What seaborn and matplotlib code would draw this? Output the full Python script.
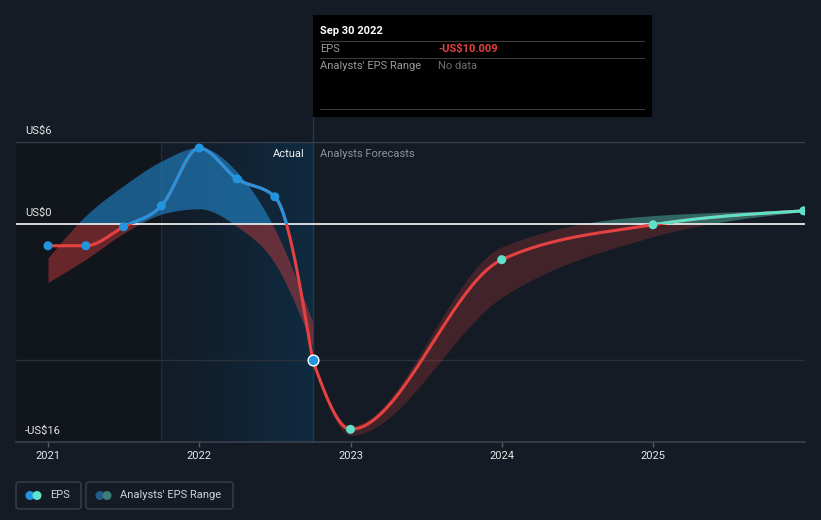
import numpy as np
import pandas as pd
import matplotlib
matplotlib.use("Agg")
import matplotlib.pyplot as plt
import matplotlib.transforms as mtransforms
from matplotlib.patches import Rectangle, FancyBboxPatch, Circle
from matplotlib.colors import LinearSegmentedColormap
import seaborn as sns

# ---------------- data (decimal years) ----------------
actual_x = [2021.0, 2021.25, 2021.5, 2021.75, 2022.0, 2022.25, 2022.5, 2022.75]
actual_eps = [-1.61, -1.61, -0.22, 1.32, 5.56, 3.29, 1.98, -10.009]

hist_hi = [-2.5, 0.6, 2.8, 4.6, 5.6, 3.8, -0.4, -7.2]
hist_lo = [-4.3, -2.6, -0.7, 0.7, 1.1, -0.2, -2.9, -9.0]

fc_x = [2022.75, 2023.0, 2024.0, 2025.0, 2025.997]
fc_eps = [-10.009, -15.07, -2.63, -0.07, 0.95]
fc_hi = [-10.009, -14.8, -1.7, 0.6, 0.98]
fc_lo = [-10.009, -15.5, -5.4, -0.95, 0.9]

year_ticks = [2021, 2022, 2023, 2024, 2025]
year_labels = ["2021", "2022", "2023", "2024", "2025"]
y_ticks = [6, 0, -16]
y_labels = ["US$6", "US$0", "-US$16"]
grid_vals = [6, -10]

# ---------------- style ----------------
BG = "#151b24"
BLUE = "#2394df"
RED = "#e64141"
TEAL = "#5fe0c9"
TXT = "#e6e6e6"

sns.set_theme(style="dark", rc={"figure.facecolor": BG, "axes.facecolor": BG})
plt.rcParams["font.family"] = ["Roboto", "DejaVu Sans"]


def monotone(xs, ys, n=80):
    xs = np.asarray(xs, float)
    ys = np.asarray(ys, float)
    h = np.diff(xs)
    s = np.diff(ys) / h
    m = len(xs)
    t = np.zeros(m)
    sg = lambda v: -1.0 if v < 0 else 1.0
    for i in range(1, m - 1):
        p = (s[i - 1] * h[i] + s[i] * h[i - 1]) / (h[i - 1] + h[i])
        t[i] = (sg(s[i - 1]) + sg(s[i])) * min(abs(s[i - 1]), abs(s[i]), 0.5 * abs(p))
    if m > 2:
        t[0] = (3 * s[0] - t[1]) / 2
        t[-1] = (3 * s[-1] - t[-2]) / 2
    else:
        t[:] = s[0]
    X, Y = [], []
    for i in range(m - 1):
        u = np.linspace(0, 1, n, endpoint=(i == m - 2))
        h00 = 2 * u**3 - 3 * u**2 + 1
        h10 = u**3 - 2 * u**2 + u
        h01 = -2 * u**3 + 3 * u**2
        h11 = u**3 - u**2
        X.append(xs[i] + u * h[i])
        Y.append(h00 * ys[i] + h10 * h[i] * t[i] + h01 * ys[i + 1] + h11 * h[i] * t[i + 1])
    return np.concatenate(X), np.concatenate(Y)


W, H = 821, 520
fig = plt.figure(figsize=(W / 100, H / 100), dpi=100)
fig.patch.set_facecolor(BG)

L, R, T, B = 16, 805, 142, 442
ax = fig.add_axes([L / W, (H - B) / H, (R - L) / W, (B - T) / H])
ppy = (653 - 48) / 4.0
x0 = 2021 - (48 - L) / ppy
x1 = 2021 + (R - 48) / ppy
ax.set_facecolor(BG)

# background regions
ax.axvspan(x0, 2021.75, color="#11151c", zorder=0, lw=0)
grad = np.linspace(0, 1, 512).reshape(1, -1)
cmap = LinearSegmentedColormap.from_list("g", ["#131b26", "#0f2a40"])
ax.imshow(grad, extent=[2021.75, 2022.75, -16, 6], aspect="auto", cmap=cmap,
          interpolation="bilinear", zorder=0.5)
ax.axvline(2021.75, color="#1e2a38", lw=1, zorder=1)
ax.axvline(2022.75, ymin=0, ymax=(B - 117) / (B - T), color="#1d3a55", lw=1, zorder=1, clip_on=False)

# grid lines
for g in grid_vals:
    ax.axhline(g, color="#3a404b" if g > 0 else "#2b313b", lw=1, zorder=1)

# analyst bands
hx, hh = monotone(actual_x, hist_hi)
_, hl = monotone(actual_x, hist_lo)
ax.fill_between(hx, np.maximum(hl, 0), np.maximum(hh, 0), color=BLUE, alpha=0.55, lw=0, zorder=2)
ax.fill_between(hx, np.minimum(hl, 0), np.minimum(hh, 0), color=RED, alpha=0.4, lw=0, zorder=2)

fx, fh = monotone(fc_x, fc_hi)
_, fl = monotone(fc_x, fc_lo)
ax.fill_between(fx, np.maximum(fl, 0), np.maximum(fh, 0), color=TEAL, alpha=0.38, lw=0, zorder=2)
ax.fill_between(fx, np.minimum(fl, 0), np.minimum(fh, 0), color=RED, alpha=0.22, lw=0, zorder=2)

ax.axhline(0, color="#e8e8e8", lw=1.3, zorder=3)

# lines, colored by sign
def sign_line(xs, ys, pos_color):
    sx, sy = monotone(xs, ys)
    df = pd.DataFrame({"x": sx, "y": sy})
    sns.lineplot(data=df, x="x", y="y", ax=ax, color=RED, lw=2.2, sort=False,
                 estimator=None, zorder=4)
    sns.lineplot(data=df, x="x", y="y", ax=ax, color=pos_color, lw=2.2, sort=False,
                 estimator=None, zorder=4.1)
    ln = ax.lines[-1]
    ln.set_clip_path(Rectangle((x0 - 1, 0), 10, 100, transform=ax.transData))

sign_line(actual_x, actual_eps, BLUE)
sign_line(fc_x, fc_eps, TEAL)

sns.scatterplot(x=actual_x[:-1], y=actual_eps[:-1], ax=ax, color=BLUE, s=42,
                edgecolor="none", zorder=5)
sns.scatterplot(x=fc_x[1:], y=fc_eps[1:], ax=ax, color=TEAL, s=42,
                edgecolor="none", zorder=5)
sns.scatterplot(x=actual_x[-1:], y=actual_eps[-1:], ax=ax, color=BLUE, s=60,
                edgecolor="white", linewidth=1.0, zorder=6)

ax.set_xlim(x0, x1)
ax.set_ylim(-16, 6)
ax.set_xlabel("")
ax.set_ylabel("")
ax.grid(False)
ax.set_yticks([])
ax.set_xticks(year_ticks)
ax.set_xticklabels(year_labels)
ax.tick_params(axis="x", colors="#555b66", labelcolor=TXT, labelsize=8, length=3.5,
               width=1, pad=3, direction="out", bottom=True)
for sp in ["top", "left", "right"]:
    ax.spines[sp].set_visible(False)
ax.spines["bottom"].set_color("#3b404a")
ax.spines["bottom"].set_linewidth(1.2)

trans = mtransforms.blended_transform_factory(ax.transAxes, ax.transData)
off = mtransforms.offset_copy(trans, fig=fig, x=0, y=6, units="dots")
for v, lab in zip(y_ticks, y_labels):
    ax.text((25 - L) / (R - L), v, lab, transform=off, color=TXT, fontsize=8,
            ha="left", va="bottom", zorder=7)

# ---------------- overlay (pixel coordinates) ----------------
ov = fig.add_axes([0, 0, 1, 1], zorder=10)
ov.set_xlim(0, W)
ov.set_ylim(H, 0)
ov.axis("off")
ov.patch.set_alpha(0)

ov.text(305, 154, "Actual", color="#f0f0f0", fontsize=8, ha="right", va="center")
ov.text(320, 154, "Analysts Forecasts", color="#8c9099", fontsize=8, ha="left", va="center")

# tooltip
ov.add_patch(Rectangle((313, 15), 339, 102, facecolor="#000000", edgecolor="none"))
ov.text(320, 31, "Sep 30 2022", color="white", fontsize=8, fontweight="bold", ha="left", va="center")
for yy in (41, 58, 109):
    ov.plot([320, 644], [yy, yy], color="#3a3a3a", lw=0.8)
ov.text(320, 49, "EPS", color="#9a9a9a", fontsize=8, ha="left", va="center")
ov.text(438, 49, "-US$10.009", color=RED, fontsize=8, fontweight="bold", ha="left", va="center")
ov.text(320, 66, "Analysts' EPS Range", color="#9a9a9a", fontsize=8, ha="left", va="center")
ov.text(438, 66, "No data", color="#6e6e6e", fontsize=8, ha="left", va="center")

# legend
def legend_box(xa, xb, c1, c2, label):
    ov.add_patch(FancyBboxPatch((xa, 482), xb - xa, 27, boxstyle="round,pad=0,rounding_size=3",
                                facecolor="none", edgecolor="#3b404a", lw=1))
    ov.add_patch(Circle((xa + 14, 495.5), 4.5, color=c1, lw=0))
    ov.add_patch(Circle((xa + 21, 495.5), 4.5, color=c2, lw=0))
    ov.text(xa + 34, 495.5, label, color="#d0d3d8", fontsize=8, ha="left", va="center")

legend_box(16, 81, BLUE, TEAL, "EPS")
legend_box(86, 233, "#215d8b", "#3e7d76", "Analysts' EPS Range")

fig.savefig("out.png", dpi=100, facecolor=BG)
